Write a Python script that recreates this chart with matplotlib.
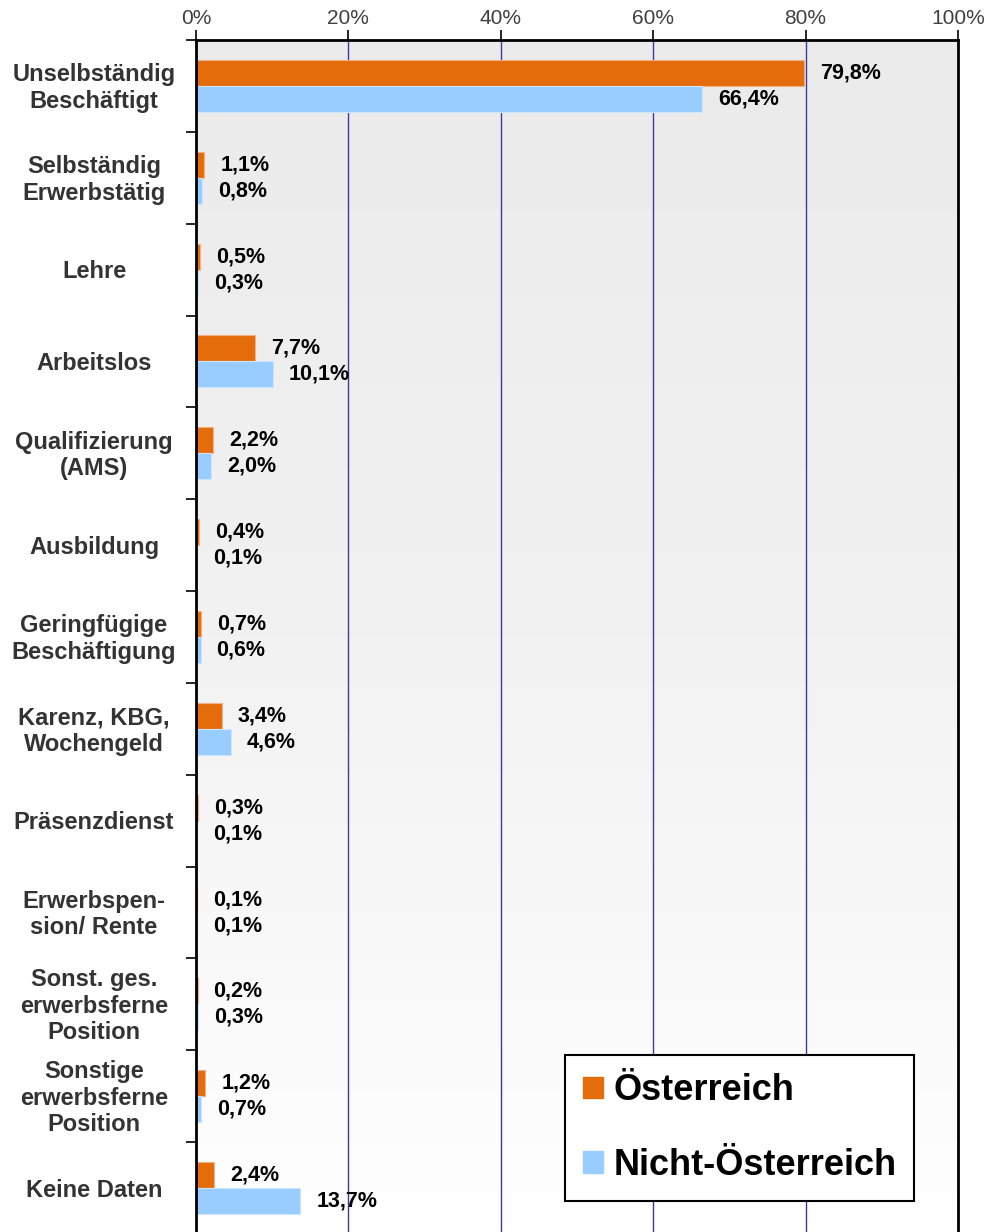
import matplotlib
matplotlib.use("Agg")
import matplotlib.pyplot as plt
import numpy as np
from matplotlib.patches import Patch

categories = [
    "Unselbständig\nBeschäftigt",
    "Selbständig\nErwerbstätig",
    "Lehre",
    "Arbeitslos",
    "Qualifizierung\n(AMS)",
    "Ausbildung",
    "Geringfügige\nBeschäftigung",
    "Karenz, KBG,\nWochengeld",
    "Präsenzdienst",
    "Erwerbspen-\nsion/ Rente",
    "Sonst. ges.\nerwerbsferne\nPosition",
    "Sonstige\nerwerbsferne\nPosition",
    "Keine Daten",
]
oesterreich = [79.8, 1.1, 0.5, 7.7, 2.2, 0.4, 0.7, 3.4, 0.3, 0.1, 0.2, 1.2, 2.4]
nicht_oesterreich = [66.4, 0.8, 0.3, 10.1, 2.0, 0.1, 0.6, 4.6, 0.1, 0.1, 0.3, 0.7, 13.7]
series_names = ["Österreich", "Nicht-Österreich"]
xticks = [0, 20, 40, 60, 80, 100]

plt.rcParams['font.family'] = ['Liberation Sans', 'DejaVu Sans']

W, H = 984, 1232
fig = plt.figure(figsize=(W / 100, H / 100), dpi=100)
ax = fig.add_axes([196 / W, -2 / H, 762 / W, (H - 40 + 2) / H])

n = len(categories)
y = np.arange(n)
h = 0.283
c_at = '#E46C0A'
c_nat = '#99CCFF'

# gradient background
grad = np.linspace(0, 1, 256).reshape(-1, 1)
cmap = matplotlib.colors.LinearSegmentedColormap.from_list('bg', ['#EBEBEB', '#F2F2F2', '#FFFFFF'])
ax.imshow(grad, aspect='auto', cmap=cmap, extent=[0, 1, 0, 1], transform=ax.transAxes,
          zorder=0, origin='upper')

for xv in xticks[1:-1]:
    ax.axvline(xv, color='#3A3AA0', lw=1.0, zorder=1)

ax.barh(y - h / 2, oesterreich, height=h, color=c_at, edgecolor='#F2B084', linewidth=0.8, zorder=2)
ax.barh(y + h / 2, nicht_oesterreich, height=h, color=c_nat, edgecolor='#CCE6FF', linewidth=0.8, zorder=2)

off = 16 * 100 / 762  # px -> data units
for i in range(n):
    ax.text(oesterreich[i] + off, y[i] - h / 2, f"{oesterreich[i]:.1f}%".replace('.', ','),
            va='center', ha='left', fontsize=15.5, fontweight='bold', color='black', zorder=3)
    ax.text(nicht_oesterreich[i] + off, y[i] + h / 2, f"{nicht_oesterreich[i]:.1f}%".replace('.', ','),
            va='center', ha='left', fontsize=15.5, fontweight='bold', color='black', zorder=3)

ax.set_xlim(0, 100)
ax.set_ylim(n - 0.5, -0.5)

ax.xaxis.tick_top()
ax.set_xticks(xticks)
ax.set_xticklabels([f"{v}%" for v in xticks], fontsize=15, color='#404040')
ax.tick_params(axis='x', direction='out', length=7, width=1.2, color='black', pad=2)

ax.set_yticks(np.arange(n + 1) - 0.5)
ax.set_yticklabels([])
ax.tick_params(axis='y', direction='out', length=7, width=1.2, color='black')
for i, cat in enumerate(categories):
    ax.annotate(cat, xy=(0, y[i]), xycoords=('axes fraction', 'data'),
                xytext=(-102, -2), textcoords='offset pixels',
                ha='center', va='center', multialignment='center',
                fontsize=17, fontweight='bold', color='#333333', annotation_clip=False)

for s in ax.spines.values():
    s.set_color('black')
    s.set_linewidth(2)
    s.set_zorder(4)

handles = [Patch(color=c_at), Patch(color=c_nat)]
leg = ax.legend(handles, series_names, loc='lower left',
                bbox_to_anchor=(565 / W, (H - 1201) / H, (914 - 565) / W, (1201 - 1046) / H),
                bbox_transform=fig.transFigure, mode='expand',
                prop={'weight': 'bold', 'size': 26}, frameon=True, fancybox=False,
                edgecolor='black', framealpha=1, handlelength=0.55, handleheight=0.55,
                handletextpad=0.3, labelspacing=1.1, borderpad=0.5, borderaxespad=0)
leg.get_frame().set_linewidth(1.5)
leg.set_zorder(5)

fig.savefig('out.png', dpi=100)
